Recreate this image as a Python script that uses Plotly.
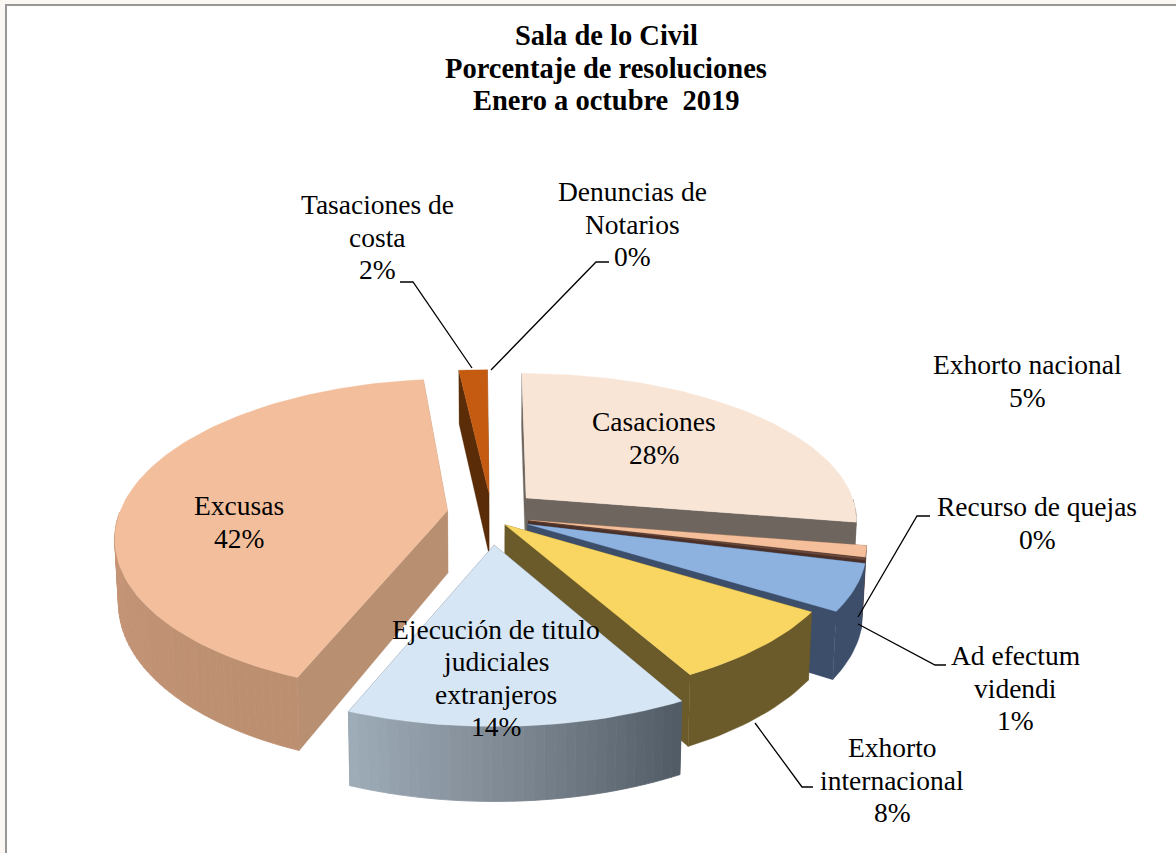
import math
import plotly.graph_objects as go

# ---- data (clockwise from 12 o'clock) ----
categories = ["Casaciones", "Ad efectum videndi", "Recurso de quejas", "Exhorto nacional",
              "Exhorto internacional", "Ejecución de titulo judiciales extranjeros",
              "Excusas", "Tasaciones de costa", "Denuncias de Notarios"]
values = [27.7, 1.2, 0.2, 5.0, 8.0, 14.0, 42.3, 1.6, 0.1]
label_lines = [["Casaciones"], ["Ad efectum", "videndi"], ["Recurso de quejas"], ["Exhorto nacional"],
               ["Exhorto", "internacional"], ["Ejecución de titulo", "judiciales", "extranjeros"],
               ["Excusas"], ["Tasaciones de", "costa"], ["Denuncias de", "Notarios"]]
title_lines = ["Sala de lo Civil", "Porcentaje de resoluciones", "Enero a octubre  2019"]

# ---- style ----
pulls = [0.134, 0.13, 0.13, 0.135, 0.105, 0.24, 0.134, 0.11, 0.11]
nudge_u = [0.005, -0.014, -0.014, -0.014, -0.03, -0.005, 0, 0, 0]
nudge_v = [0.01, 0.05, 0.05, 0.05, 0.03, 0, 0.03, 0, 0]
persp = [0.14, 0.14, 0.14, 0.14, 0.14, 0.14, 0.16, 0.14, 0.14]
rx_scale = [1, 1, 1, 1, 1, 1, 0.99, 1, 1]
ry_scale = [1, 1, 1, 1, 1, 1, 1.05, 1, 1]
top_colors = ["#F8E5D6", "#F4BF9A", "#6B4A3C", "#8DB2E0", "#F9D662", "#D7E6F4", "#F2BE9C", "#C55A11", "#C55A11"]
cut_colors = ["#6E655E", "#6B4A3C", "#4A3028", "#3C4E6A", "#6B5A2A", "#59636E", "#B98F72", "#5A2C08", "#5A2C08"]
wall_stops = [[(110, 101, 94), (110, 101, 94)],
              [(107, 74, 60), (107, 74, 60)],
              [(74, 48, 40), (74, 48, 40)],
              [(60, 78, 106), (60, 78, 106)],
              [(107, 90, 42), (107, 90, 42)],
              [(82, 92, 102), (125, 135, 145), (158, 172, 184)],
              [(188, 143, 113), (200, 150, 120), (226, 178, 146)],
              [(90, 44, 8), (90, 44, 8)],
              [(90, 44, 8), (90, 44, 8)]]
label_pos = [(654, 438), (1015, 688), (1037, 523), (1027, 381), (892, 780), (496, 678), (239, 522), (377, 237), (632, 224)]
title_pos = (606, 68)
LINE = 32.3
CX, CY, RX, RY, H = 491, 509, 330, 145, 62
FONT = "Liberation Serif"
MIN_DRAWN = 0.15


def project(U, V, i, depth=0.0):
    s = 1 / (1 - persp[i] * V)
    x = CX + RX * rx_scale[i] * U * s
    y = CY + RY * ry_scale[i] * V * s
    if depth:
        x = CX + (x - CX) * 0.99
        y = y + depth * H * s
    return x, y


def mix(stops, t):
    t = min(max(t, 0), 1) * (len(stops) - 1)
    i = min(int(t), len(stops) - 2)
    f = t - i
    c = [stops[i][j] + (stops[i + 1][j] - stops[i][j]) * f for j in range(3)]
    return "rgb(%d,%d,%d)" % tuple(c)


def poly(pts, color, width=0.6):
    xs = [p[0] for p in pts] + [pts[0][0]]
    ys = [p[1] for p in pts] + [pts[0][1]]
    return go.Scatter(x=xs, y=ys, mode="lines", fill="toself", fillcolor=color,
                      line=dict(color=color, width=width), hoverinfo="skip", showlegend=False)


total = sum(values)
spans = []
acc = 0.0
for v in values:
    spans.append((acc / total * 360, (acc + v) / total * 360))
    acc += v

order = [0, 8, 7, 6, 1, 2, 3, 4, 5]  # painter's order: far to near
traces = []
for i in order:
    if values[i] < MIN_DRAWN:
        continue
    a0, a1 = spans[i]
    mid = math.radians((a0 + a1) / 2)
    ou = pulls[i] * math.sin(mid) + nudge_u[i]
    ov = -pulls[i] * math.cos(mid) + nudge_v[i]
    n = max(3, int((a1 - a0) / 1.5))
    angles = [math.radians(a0 + (a1 - a0) * j / n) for j in range(n + 1)]
    rim = [(ou + math.sin(a), ov - math.cos(a)) for a in angles]
    apex = (ou, ov)
    for e in (rim[0], rim[-1]):
        traces.append(poly([project(*apex, i), project(*e, i), project(*e, i, 1), project(*apex, i, 1)], cut_colors[i], 0.3))
    front = [j for j in range(n) if math.cos((angles[j] + angles[j + 1]) / 2) <= 0]  # back of the rim faces away
    if front and wall_stops[i][0] == wall_stops[i][-1]:
        idx = front + [front[-1] + 1]
        traces.append(poly([project(*rim[j], i) for j in idx] + [project(*rim[j], i, 1) for j in reversed(idx)],
                           mix(wall_stops[i], 0), 0.4))
    else:
        for j in front:
            t = j / max(n - 1, 1)
            traces.append(poly([project(*rim[j], i), project(*rim[j + 1], i),
                                project(*rim[j + 1], i, 1), project(*rim[j], i, 1)],
                               mix(wall_stops[i], t), 0.8))
    traces.append(poly([project(*apex, i)] + [project(*p, i) for p in rim], top_colors[i], 0.3))

fig = go.Figure(traces)


def text_lines(lines, center, size, bold=False):
    out = []
    y0 = center[1] - LINE * (len(lines) - 1) / 2
    for n, line in enumerate(lines):
        out.append(dict(x=center[0], y=y0 + n * LINE, xref="x", yref="y", showarrow=False,
                        text=f"<b>{line}</b>" if bold else line,
                        xanchor="center", yanchor="middle", align="center",
                        font=dict(family=FONT, size=size, color="#000000")))
    return out


annotations = text_lines(title_lines, title_pos, 28.5, bold=True)
for i, cat in enumerate(categories):
    annotations += text_lines(label_lines[i] + [f"{round(values[i])}%"], label_pos[i], 27.5)

leaders = [
    [(400, 282), (413, 282), (472, 368)],
    [(609, 262), (596, 262), (491, 370)],
    [(930, 516), (917, 516), (858, 617)],
    [(858, 624), (935, 665), (946, 665)],
    [(755, 723), (802, 787), (813, 787)],
]
shapes = [dict(type="rect", xref="x", yref="y", x0=6, y0=5, x1=1200, y1=880, fillcolor="#FFFFFF",
               line=dict(color="#979797", width=2), layer="below")]
for pts in leaders:
    path = "M " + " L ".join(f"{x},{y}" for x, y in pts)
    shapes.append(dict(type="path", xref="x", yref="y", path=path, line=dict(color="#000000", width=1.3), layer="above"))

fig.update_layout(
    width=1176, height=853, autosize=False,
    margin=dict(l=0, r=0, t=0, b=0),
    paper_bgcolor="#FBF7F3", plot_bgcolor="rgba(0,0,0,0)",
    showlegend=False,
    xaxis=dict(range=[0, 1176], visible=False, fixedrange=True),
    yaxis=dict(range=[853, 0], visible=False, fixedrange=True),
    annotations=annotations, shapes=shapes,
)
fig.write_html("out.html", config={"displayModeBar": False},
               post_script="document.body.style.margin='0';document.body.style.overflow='hidden';")
